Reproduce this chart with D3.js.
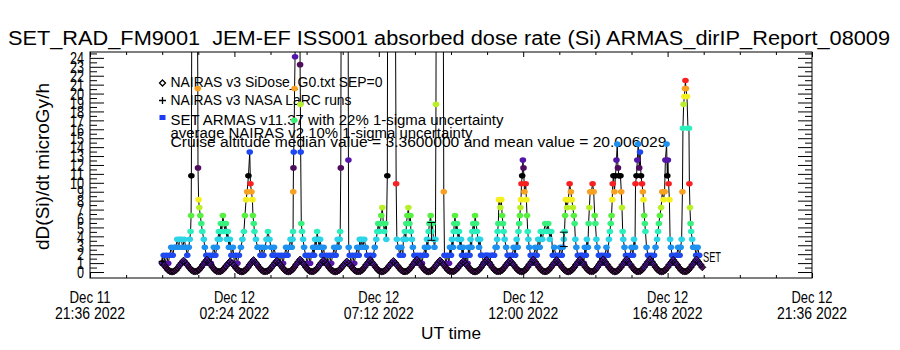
<!DOCTYPE html>
<html><head><meta charset="utf-8">
<script src="https://cdn.jsdelivr.net/npm/d3@7/dist/d3.min.js"></script>
<style>body{margin:0;background:#fff}svg{display:block;background:#fff}</style>
</head><body><svg id="c" width="900" height="350"></svg>
<script>
// ---------------- data ----------------
const titleText = "SET_RAD_FM9001  JEM-EF ISS001 absorbed dose rate (Si) ARMAS_dirIP_Report_08009";
const yAxisTitle = "dD(Si)/dt microGy/h";
const xAxisTitle = "UT time";
const xTickTimes = ["2022-12-11T21:36:00Z","2022-12-12T02:24:00Z","2022-12-12T07:12:00Z",
                    "2022-12-12T12:00:00Z","2022-12-12T16:48:00Z","2022-12-12T21:36:00Z"];
const yTickValues = [0,1,2,3,4,5,6,7,8,9,10,11,12,13,14,15,16,17,18,19,20,21,22,23,24];
const yRange = [-0.67, 24.66];
const legendLabels = ["NAIRAS v3 SiDose_G0.txt SEP=0","NAIRAS v3 NASA LaRC runs",
  "SET ARMAS v11.37 with 22% 1-sigma uncertainty"];
const noteLines = ["average NAIRAS v2 10% 1-sigma uncertainty",
  "Cruise altitude median value = 3.3600000 and mean value = 20.006029"];
const instrumentTag = "SET";
const dataStart = "2022-12-12T00:00:00Z";
// SET ARMAS dose rate: [minutes after dataStart, microGy/h]
const armas = [
[0,0.99],[3,1.88],[6,0.99],[9,1.88],[12,0.99],[15,1.88],[18,2.77],[21,1.88],[24,2.77],[27,2.77],[30,3.66],[33,2.77],[35,3.66],[38,3.66],[41,2.77],[44,3.66],[47,2.77],[50,1.88],[53,2.77],[55,3.66],[56.6,4.55],[57.6,6.33],[58.2,10.78],[60,52],[64,88],[68,61],[71,20.57],[71.4,11.67],[72.6,8.11],[74,7.22],[76,6.33],[78,5.44],[80,4.55],[83,3.66],[85,2.77],[88,1.88],[91,0.99],
[94,1.88],[97,0.99],[100,1.88],[103,2.77],[106,1.88],[109,2.77],[111,3.66],[113,4.55],[115,3.66],[117,5.44],[119,4.55],[121,6.33],[123,5.44],[125,4.55],[127,5.44],[129,3.66],[131,4.55],[133,2.77],[135,3.66],[138,1.88],[141,2.77],[144,0.99],[147,1.88],[150,0.99],
[153,1.88],[157,2.77],[160,3.66],[163,4.55],[165,6.33],[167.4,8.11],[169.4,9.00],[172,10.78],[174.6,13.45],[176,9.89],[178,9.00],[180,8.11],[181,6.33],[182.6,5.44],[184,4.55],[187,3.66],[190,2.77],[193,2.77],[196,1.88],
[199,2.77],[202,1.88],[205,2.77],[208,3.66],[211,4.55],[214,3.66],[217,2.77],[220,1.88],[223,2.77],[226,1.88],[229,0.99],[232,1.88],[235,0.99],
[238,1.88],[241,0.99],[244,1.88],[247,2.77],[250,1.88],[253,2.77],[256,3.66],[258.4,2.77],[260,3.66],[261,4.55],[261.4,9.00],[261.8,11.67],[262.4,13.45],[263.4,17.01],[264,20.57],[265,24.13],[267,75],[270,130],[273,90],[275,23.24],[275.6,18.79],[276.2,13.45],[277.4,5.44],[279,4.55],[281,3.66],[283,2.77],[286,1.88],[289,0.99],
[292,1.88],[295,0.99],[298,1.88],[301,2.77],[303,1.88],[305,3.66],[307,2.77],[309,4.55],[311,3.66],[313,2.77],[315,3.66],[317,2.77],[319,1.88],[322,2.77],[325,0.99],[328,1.88],[331,0.99],[334,1.88],[337,0.99],
[340,1.88],[343,2.77],[346,1.88],[348,2.77],[350,3.66],[352,2.77],[354,3.66],[355,4.55],[356.2,11.67],[358.2,66],[362,140],[366,118],[370,54],[371.4,12.56],[372,2.77],[374,1.88],[377,0.99],
[380,1.88],[383,0.99],[386,1.88],[389,2.77],[392,1.88],[394,3.66],[396,2.77],[398,3.66],[400,2.77],[403,3.66],[406,2.77],[409,1.88],[412,0.99],[415,1.88],[418,0.99],[421,1.88],
[424,2.77],[427,3.66],[429,4.55],[431,5.44],[433,4.55],[435,5.44],[437,6.33],[439,7.22],[441,5.44],[443,4.55],[445,5.44],[447,3.66],[449,10.78],[451,80],[455,150],[459,125],[463,60],[466.6,9.89],[468,3.66],[471,2.77],[474,1.88],
[477,2.77],[480,1.88],[481,3.66],[484,4.55],[486,3.66],[487,5.44],[489,6.33],[491,7.22],[493,5.44],[495,6.33],[496,4.55],[498,3.66],[500,2.77],[503,1.88],[506,0.99],[509,1.88],[512,0.99],[515,1.88],
[518,0.99],[521,1.88],[524,2.77],[526,1.88],[528,3.66],[530,2.77],[531.4,4.55],[533,5.44],[535.4,6.33],[537,4.55],[539,5.44],[541,3.66],[543,2.77],[545,3.66],[546,18.79],[548,70],[552,120],[556,95],[560,44],[561.6,9.00],[563,1.88],[566,0.99],
[569,1.88],[572,0.99],[574,2.77],[576,1.88],[578,3.66],[580,2.77],[581.4,4.55],[582.6,5.44],[584,6.33],[586,4.55],[588,5.44],[590,3.66],[592,4.55],[594,2.77],[596,3.66],[598,1.88],[600,2.77],[603,0.99],
[606,1.88],[609,0.99],[611,2.77],[613,1.88],[615,3.66],[617,2.77],[618.6,4.55],[620.4,5.44],[622.4,4.55],[624,6.33],[626,5.44],[628,4.55],[630,3.66],[632,2.77],[634,3.66],[636,1.88],
[638,1.88],[641,0.99],[644,1.88],[647,1.88],[650,1.88],[653,0.99],[656,1.88],[659,1.88],[662,1.88],[665,2.77],
[667,2.77],[668,3.66],[669,4.55],[670.4,5.44],[671.6,8.11],[674.4,7.22],[676.4,8.11],[678,6.33],[679.6,5.44],[681,4.55],[683,3.66],[686,2.77],[689,1.88],[692,0.99],[695,1.88],
[698,1.88],[701,2.77],[704,1.88],[707,3.66],[709,2.77],[710.6,4.55],[712,5.44],[713.4,6.33],[714.4,7.22],[715.6,8.11],[716.6,9.89],[718,10.78],[719.4,12.56],[720.6,11.67],[722.6,9.00],[725,9.89],[726.4,8.11],[727.6,6.33],[729,4.55],[730.4,3.66],[732,2.77],[735,1.88],
[738,0.99],[741,1.88],[744,2.77],[747,1.88],[750,3.66],[753,2.77],[755,4.55],[758,3.66],[761,4.55],[764,5.44],[767,4.55],[770,5.44],[773,3.66],[776,4.55],[779,1.88],[782,2.77],[785,1.88],
[788,0.99],[791,1.88],[794,2.77],[797,1.88],[799,2.77],[801,3.66],[802.4,4.55],[803.6,6.33],[805,8.11],[807.6,7.22],[810,8.11],[812.6,9.89],[815,9.00],[817,8.11],[819,7.22],[821,6.33],[822.6,5.44],[824,3.66],[826,2.77],[829,1.88],[832,0.99],[835,1.88],
[838,1.88],[841,0.99],[843,2.77],[845,1.88],[847,3.66],[849,2.77],[850.4,5.44],[852,7.22],[853.6,9.00],[856,9.00],[858.4,9.89],[860.6,9.00],[862.6,6.33],[864,5.44],[866,3.66],[868,2.77],[871,1.88],[874,0.99],[877,1.88],
[880,0.99],[883,1.88],[886,2.77],[889,1.88],[891,3.66],[893,4.55],[894.6,5.44],[896.2,6.33],[897.6,8.11],[898.6,9.89],[900,10.78],[902,9.00],[904,10.78],[906,12.56],[907.6,14.34],[909,11.67],[911,10.78],[914,10.78],[915.6,9.00],[917,7.22],[918.4,4.55],[919.6,3.66],[922,2.77],[925,1.88],[927,0.99],
[930,0.99],[933,1.88],[936,2.77],[939,1.88],[941,3.66],[943,2.77],[944,9.89],[946,10.78],[947.6,12.56],[949.4,14.34],[951.4,11.67],[953,13.45],[955,10.78],[957,9.89],[958.6,9.00],[960,8.11],[961.4,6.33],[962.6,5.44],[963.8,4.55],[966,2.77],[969,1.88],[972,0.99],
[975,1.88],[978,0.99],[981,1.88],[984,2.77],[987,3.66],[989,4.55],[990.6,5.44],[992.6,6.33],[995,7.22],[997.4,9.00],[1000,8.11],[1002,9.00],[1003.6,12.56],[1006,14.34],[1007.4,10.78],[1008.6,12.56],[1010,9.89],[1011.6,8.11],[1013,3.66],[1014.6,2.77],[1017,1.88],[1020,0.99],[1023,1.88],
[1026,1.88],[1029,2.77],[1032,1.88],[1034,2.77],[1036,3.66],[1037.6,9.00],[1038.6,16.12],[1040,18.79],[1041.4,19.68],[1042.6,20.57],[1043.6,21.46],[1044.6,20.57],[1046.6,19.68],[1048.6,16.12],[1050.6,16.12],[1051.4,9.89],[1052.6,7.22],[1053.8,5.44],[1055,4.55],[1057,3.66],[1059,2.77],[1062,2.77],[1065,1.88],[1068,2.77],[1071,1.88]
];
// minutes (after dataStart) of ARMAS points shown with their 22% error bar
const armasErrorBarMinutes = [537, 801];
const armasUncertainty = 0.22;
// NAIRAS v3 SiDose model, regular cadence
const nairasStartMinute = 0;
const nairasStepMinutes = 3.875;
const nairasDose = [
1.02,0.76,0.48,0.22,0.07,
0.04,0.07,0.2,0.46,0.76,1.03,1.28,1.04,0.78,0.49,0.23,0.08,
0.05,0.09,0.25,0.52,0.83,1.12,1.38,1.1,0.82,0.52,0.25,0.09,
0.05,0.07,0.19,0.43,0.7,0.96,1.2,0.97,0.72,0.45,0.21,0.07,
0.04,0.08,0.23,0.5,0.8,1.08,1.34,1.07,0.8,0.5,0.24,0.08,
0.05,0.08,0.21,0.46,0.74,1.0,1.25,1.01,0.75,0.47,0.22,0.07,
0.04,0.09,0.26,0.54,0.85,1.13,1.4,1.12,0.84,0.53,0.26,0.09,
0.05,0.08,0.22,0.48,0.78,1.05,1.3,1.05,0.79,0.49,0.23,0.08,
0.04,0.07,0.19,0.42,0.69,0.94,1.18,0.95,0.71,0.44,0.2,0.07,
0.05,0.08,0.24,0.51,0.81,1.09,1.35,1.08,0.81,0.51,0.24,0.08,
0.04,0.08,0.21,0.45,0.73,0.99,1.24,1.0,0.74,0.46,0.21,0.07,
0.05,0.09,0.25,0.52,0.83,1.11,1.38,1.1,0.83,0.52,0.25,0.09,
0.04,0.08,0.22,0.48,0.77,1.04,1.3,1.05,0.78,0.49,0.23,0.08,
0.05,0.07,0.2,0.43,0.7,0.96,1.2,0.96,0.72,0.45,0.21,0.07,
0.04,0.08,0.23,0.5,0.81,1.09,1.35,1.08,0.81,0.5,0.24,0.08,
0.05,0.08,0.22,0.48,0.78,1.05,1.3,1.04,0.78,0.48,0.23,0.08,
0.04,0.09,0.26,0.54,0.85,1.13,1.4,1.12,0.84,0.53,0.25,0.09,
0.05,0.08,0.23,0.5,0.8,1.07,1.34,1.07,0.8,0.5,0.24,0.08,
0.04,0.09,0.25,0.52,0.83,1.11,1.38,1.1,0.82,0.52,0.25,0.09,
0.05,0.09,0.26,0.55,0.86,1.15,1.42,1.13,0.85,0.54,0.26,0.09,
0.04,0.09,0.25,0.53,0.84,1.12,1.4,1.12,0.84,0.53,0.25,0.09,
0.05,0.09,0.26,0.55,0.86,1.14,1.42,1.14,0.85,0.54,0.26,0.09,
0.04,0.08,0.24,0.51,0.82,1.1,1.36,1.09,0.82,0.51,0.24,0.08,
0.05,0.09,0.25,0.53,0.84,1.12,1.4,1.12,0.84,0.53
];
// NASA LaRC NAIRAS runs: [minutes after dataStart, microGy/h]
const larcRuns = [[0, 1.2]];

// ---------------- drawing ----------------
const FONT = "'Liberation Sans', Arial, 'DejaVu Sans', sans-serif";
const svg = d3.select("#c").attr("font-family", FONT);
const L = 90, R = 812, T = 52, B = 278;
const t0 = new Date(dataStart).getTime();
const toDate = m => new Date(t0 + m * 60000);
const majorDates = xTickTimes.map(s => new Date(s));
const x = d3.scaleUtc().domain([majorDates[0], majorDates[majorDates.length - 1]]).range([L, R]);
const y = d3.scaleLinear().domain(yRange).range([B, T]);

const palette = ["#4e0c5c","#5416a8","#1e48f0","#1e90f0","#2cd4e8","#2cf0bc","#38f07c",
                 "#58f040","#b8f028","#f4f020","#f8a020","#f82020","#000000"];
const levelBase = 0.1, levelStep = 0.89;
const colourScale = d3.scaleOrdinal().domain(d3.range(palette.length)).range(palette);
const colour = v => { const k = Math.round((v - levelBase) / levelStep); return colourScale(((k % 13) + 13) % 13); };

// title
svg.append("text").attr("x", 8).attr("y", 45).attr("font-size", 20).attr("xml:space", "preserve")
  .style("white-space", "pre").attr("font-weight", 300)
  .attr("textLength", 882).attr("lengthAdjust", "spacingAndGlyphs").text(titleText);

// axes
const styleAxis = g => { g.select(".domain").remove(); g.selectAll("line").attr("stroke", "#000"); };
const minorY = yTickValues.map(v => v + 0.5).filter(v => v < yRange[1]);
svg.append("g").attr("transform", `translate(${L},0)`)
  .call(d3.axisLeft(y).tickValues(yTickValues).tickSize(-14).tickPadding(6).tickFormat(d => d))
  .call(styleAxis)
  .call(g => g.selectAll("text").attr("font-family", FONT).attr("font-size", 16).attr("fill", "#000")
      .attr("dy", "0.36em")
      .attr("textLength", d => String(d).length * 7).attr("lengthAdjust", "spacingAndGlyphs"));
svg.append("g").attr("transform", `translate(${L},0)`)
  .call(d3.axisLeft(y).tickValues(minorY).tickSize(-7).tickFormat("")).call(styleAxis);
svg.append("g").attr("transform", `translate(${R},0)`)
  .call(d3.axisRight(y).tickValues(yTickValues).tickSize(-14).tickFormat("")).call(styleAxis);
svg.append("g").attr("transform", `translate(${R},0)`)
  .call(d3.axisRight(y).tickValues(minorY).tickSize(-7).tickFormat("")).call(styleAxis);

const minorX = d3.range(1, 20).filter(i => i % 4 !== 0).map(i => d3.utcMinute.offset(majorDates[0], i * 72));
[[d3.axisBottom, B], [d3.axisTop, T]].forEach(([ax, pos]) => {
  svg.append("g").attr("transform", `translate(0,${pos})`)
    .call(ax(x).tickValues(majorDates).tickSize(-5).tickFormat("")).call(styleAxis);
  svg.append("g").attr("transform", `translate(0,${pos})`)
    .call(ax(x).tickValues(minorX).tickSize(-3).tickFormat("")).call(styleAxis);
});
const fmtDay = d3.utcFormat("%b %d"), fmtTime = d3.utcFormat("%H:%M %Y");
const xl = svg.append("g").attr("font-size", 16).attr("text-anchor", "middle");
majorDates.forEach(d => {
  xl.append("text").attr("x", x(d)).attr("y", 303).attr("textLength", 41)
    .attr("lengthAdjust", "spacingAndGlyphs").text(fmtDay(d));
  xl.append("text").attr("x", x(d)).attr("y", 319).attr("textLength", 70)
    .attr("lengthAdjust", "spacingAndGlyphs").text(fmtTime(d));
});
svg.append("text").attr("x", 451).attr("y", 339).attr("font-size", 16).attr("text-anchor", "middle")
  .attr("textLength", 60).attr("lengthAdjust", "spacingAndGlyphs").text(xAxisTitle);
svg.append("text").attr("transform", "translate(49,166.5) rotate(-90)").attr("font-size", 18)
  .attr("text-anchor", "middle").attr("textLength", 167).attr("lengthAdjust", "spacingAndGlyphs").text(yAxisTitle);

// frame
svg.append("rect").attr("x", L).attr("y", T).attr("width", R - L).attr("height", B - T)
  .attr("fill", "none").attr("stroke", "#000").attr("stroke-width", 1);

// legend
const diamond = r => `M0,${-r}L${r},0L0,${r}L${-r},0Z`;
const plus = r => `M${-r},0H${r}M0,${-r}V${r}`;
const lg = svg.append("g").attr("font-size", 15.5);
const legY = [86.5, 104.5, 124.5], legW = [212, 181, 333];
legendLabels.forEach((s, i) => lg.append("text").attr("x", 170.5).attr("y", legY[i])
  .attr("textLength", legW[i]).attr("lengthAdjust", "spacingAndGlyphs").text(s));
lg.append("path").attr("d", diamond(3)).attr("transform", "translate(162.5,83)").attr("fill", "none").attr("stroke", "#000").attr("stroke-width", 1.3);
lg.append("path").attr("d", plus(3.5)).attr("transform", "translate(162.5,100.5)").attr("stroke", "#000").attr("stroke-width", 1.3);
lg.append("rect").attr("x", 159.5).attr("y", 115).attr("width", 6).attr("height", 5).attr("fill", "#1e3cf5");
const noteY = [137.5, 147], noteW = [302, 496];
noteLines.forEach((s, i) => lg.append("text").attr("x", 170.5).attr("y", noteY[i])
  .attr("textLength", noteW[i]).attr("lengthAdjust", "spacingAndGlyphs").text(s));

// data
svg.append("clipPath").attr("id", "plotclip").append("rect")
  .attr("x", L).attr("y", T).attr("width", R - L).attr("height", B - T);
const plot = svg.append("g").attr("clip-path", "url(#plotclip)");

const line = d3.line().x(d => x(toDate(d[0]))).y(d => y(d[1]));
plot.append("path").datum(armas).attr("d", line).attr("fill", "none").attr("stroke", "#000").attr("stroke-width", 1);
plot.append("g").selectAll("ellipse").data(armas).join("ellipse")
  .attr("cx", d => x(toDate(d[0]))).attr("cy", d => y(d[1])).attr("rx", 3.3).attr("ry", 2.8)
  .attr("fill", d => colour(d[1]));

// error bars
const eb = plot.append("g").attr("stroke", "#000").attr("stroke-width", 1);
armasErrorBarMinutes.forEach(m => {
  const p = armas.find(d => d[0] === m);
  const cx = x(toDate(m)), lo = y(p[1] * (1 - armasUncertainty)), hi = y(p[1] * (1 + armasUncertainty));
  eb.append("line").attr("x1", cx).attr("x2", cx).attr("y1", lo).attr("y2", hi);
  eb.append("line").attr("x1", cx - 4).attr("x2", cx + 4).attr("y1", lo).attr("y2", lo);
  eb.append("line").attr("x1", cx - 4).attr("x2", cx + 4).attr("y1", hi).attr("y2", hi);
});

// NAIRAS: coloured fills first, then open black diamonds on top
const nairas = nairasDose.map((v, i) => [nairasStartMinute + i * nairasStepMinutes, v]);
const nPos = d => `translate(${x(toDate(d[0]))},${y(d[1])})`;
plot.append("g").selectAll("path").data(nairas).join("path")
  .attr("d", diamond(3.5)).attr("transform", nPos).attr("fill", d => colour(d[1]));
plot.append("g").selectAll("path").data(nairas).join("path")
  .attr("d", diamond(3.5)).attr("transform", nPos)
  .attr("fill", "none").attr("stroke", "#000").attr("stroke-width", 0.9);
plot.append("g").selectAll("path").data(larcRuns).join("path")
  .attr("d", plus(3.5)).attr("transform", nPos)
  .attr("stroke", "#000").attr("stroke-width", 1.3);

svg.append("text").attr("x", 703).attr("y", 262).attr("font-size", 15)
  .attr("textLength", 18).attr("lengthAdjust", "spacingAndGlyphs").text(instrumentTag);
</script></body></html>
